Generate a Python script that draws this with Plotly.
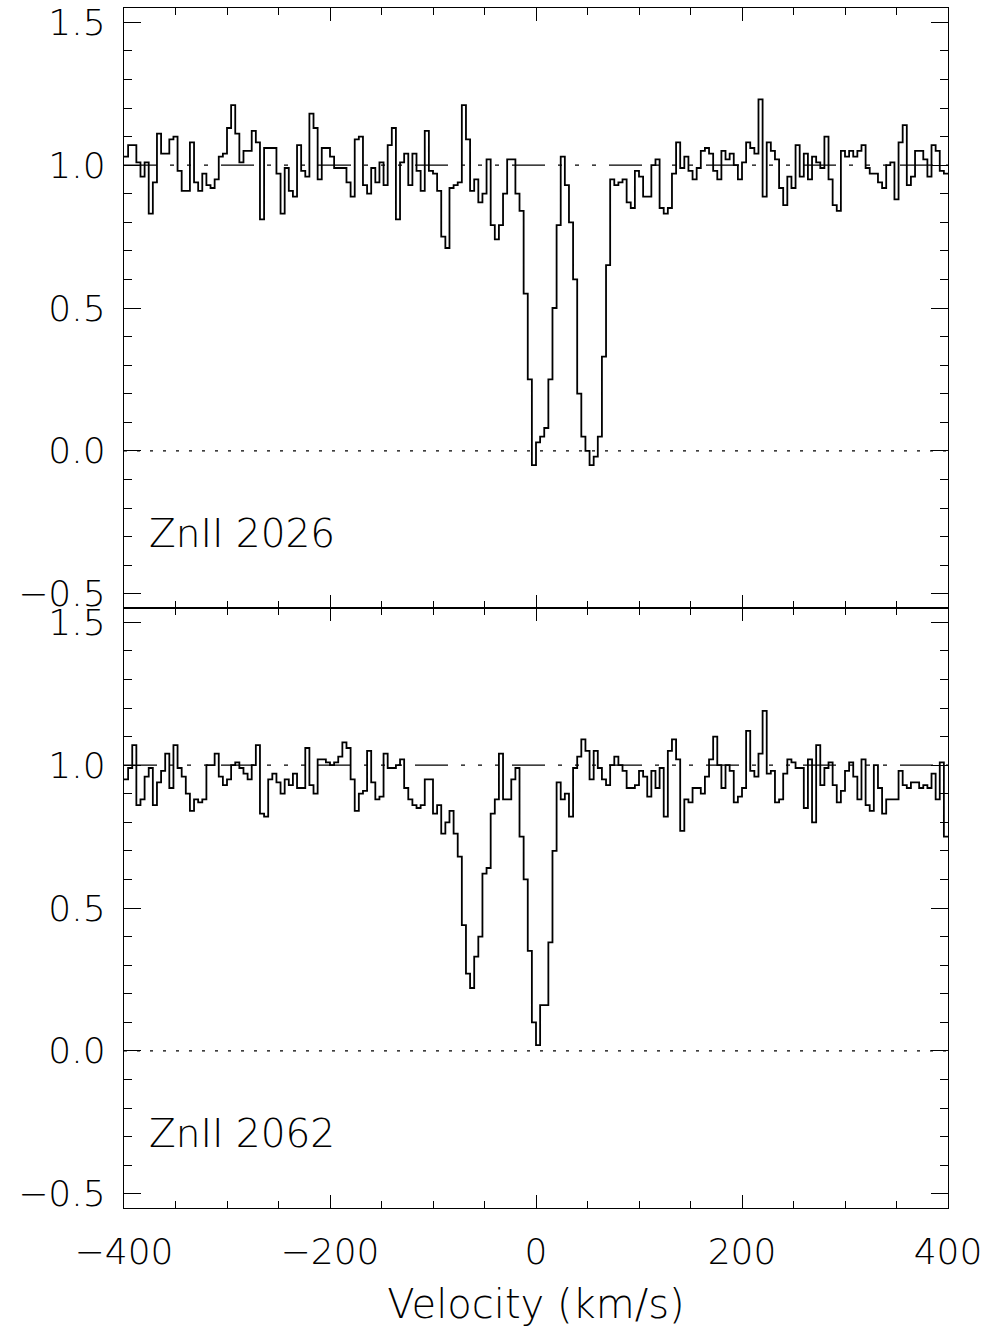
import numpy as np
import plotly.graph_objects as go
from plotly.subplots import make_subplots

# ---------------- data ----------------
V_START = -400.0   # km/s, first bin start
V_STEP = 4.0       # km/s, bin width
V_END = 400.0

flux_2026 = [
    1.03, 1.07, 1.07, 1.01, 0.96, 1.01, 0.83, 0.94, 1.11, 1.04,
    1.04, 1.09, 1.10, 0.98, 0.91, 0.91, 1.08, 0.94, 0.91, 0.97,
    0.93, 0.92, 0.95, 1.03, 1.04, 1.13, 1.21, 1.11, 1.01, 1.05,
    1.05, 1.12, 1.08, 0.81, 1.06, 1.06, 1.06, 0.97, 0.83, 0.99,
    0.91, 0.89, 1.07, 0.98, 0.96, 1.18, 1.13, 0.95, 1.06, 1.06,
    1.03, 0.99, 0.99, 0.99, 0.94, 0.89, 1.09, 1.10, 0.93, 0.90,
    0.99, 0.94, 1.01, 0.93, 1.07, 1.13, 0.81, 1.01, 1.04, 0.93,
    1.04, 0.98, 0.91, 1.12, 0.98, 0.97, 0.91, 0.75, 0.71, 0.92,
    0.93, 0.94, 1.21, 1.09, 0.91, 0.95, 0.87, 0.90, 1.02, 0.79,
    0.74, 0.79, 0.90, 1.02, 1.02, 0.90, 0.84, 0.55, 0.25, -0.05,
    0.03, 0.05, 0.08, 0.25, 0.50, 0.79, 1.03, 0.93, 0.80, 0.60,
    0.20, 0.05, 0.00, -0.05, -0.02, 0.05, 0.33, 0.65, 0.95, 0.93,
    0.94, 0.95, 0.87, 0.85, 0.98, 0.96, 0.89, 0.89, 1.00, 1.02,
    0.85, 0.83, 0.85, 0.97, 1.08, 0.99, 1.03, 0.98, 0.95, 0.99,
    1.05, 1.06, 1.04, 0.98, 0.95, 1.05, 1.02, 1.04, 1.00, 0.95,
    1.01, 1.08, 1.06, 1.04, 1.23, 0.89, 1.08, 1.05, 1.02, 0.92,
    0.86, 0.96, 0.92, 1.07, 0.96, 1.04, 0.95, 1.03, 1.01, 0.99,
    1.10, 0.95, 0.86, 0.84, 1.05, 1.03, 1.05, 1.03, 1.05, 1.07,
    0.99, 0.97, 0.97, 0.94, 0.92, 1.00, 1.01, 0.88, 1.08, 1.14,
    0.93, 0.96, 1.05, 1.05, 1.02, 0.96, 1.07, 1.05, 0.98, 0.97,
]

flux_2062 = [
    0.95, 0.99, 1.07, 0.86, 0.88, 0.96, 0.99, 0.86, 0.94, 0.98,
    1.04, 0.92, 1.07, 0.99, 0.96, 0.90, 0.84, 0.88, 0.87, 0.88,
    1.00, 1.00, 1.04, 0.96, 0.93, 0.95, 1.00, 1.01, 0.99, 0.97,
    0.95, 1.00, 1.07, 0.83, 0.82, 0.95, 0.97, 0.94, 0.90, 0.95,
    0.93, 0.97, 0.92, 0.92, 1.06, 0.93, 0.90, 1.02, 1.02, 1.01,
    1.00, 1.01, 1.03, 1.08, 1.06, 0.95, 0.84, 0.90, 0.91, 1.05,
    0.94, 0.88, 0.89, 1.04, 0.99, 0.99, 1.00, 1.02, 0.92, 0.88,
    0.86, 0.85, 0.86, 0.95, 0.95, 0.83, 0.86, 0.76, 0.80, 0.84,
    0.76, 0.68, 0.44, 0.27, 0.22, 0.33, 0.40, 0.62, 0.64, 0.83,
    0.88, 1.04, 0.88, 0.88, 0.95, 0.99, 0.75, 0.60, 0.35, 0.10,
    0.02, 0.16, 0.16, 0.38, 0.70, 0.94, 0.88, 0.90, 0.82, 0.99,
    1.03, 1.09, 1.05, 0.95, 1.05, 0.99, 0.95, 0.93, 1.00, 1.03,
    1.00, 0.98, 0.92, 0.92, 0.93, 0.98, 0.96, 0.89, 0.98, 0.92,
    0.99, 0.82, 1.05, 1.09, 1.02, 0.77, 0.88, 0.87, 0.92, 0.92,
    0.90, 0.96, 1.02, 1.10, 1.00, 0.92, 1.00, 0.98, 0.87, 0.89,
    0.92, 1.12, 0.98, 0.96, 1.04, 1.19, 0.97, 0.98, 0.87, 0.88,
    0.97, 1.02, 1.01, 0.99, 0.99, 0.85, 1.02, 0.80, 1.07, 0.93,
    0.99, 1.01, 0.93, 0.87, 0.91, 0.98, 1.01, 0.96, 0.88, 1.02,
    0.86, 0.84, 1.00, 0.92, 0.83, 0.88, 0.88, 0.88, 0.98, 0.93,
    0.92, 0.94, 0.94, 0.92, 0.93, 0.92, 0.97, 0.88, 1.01, 0.75,
]

panel_labels = ["ZnII 2026", "ZnII 2062"]
x_tick_vals = [-400, -200, 0, 200, 400]
y_tick_vals = [-0.5, 0.0, 0.5, 1.0, 1.5]
continuum_level = 1.0
zero_level = 0.0
x_range = [-400, 400]
y_range = [-0.55, 1.55]

# ---------------- figure ----------------
FONT = "DejaVu Sans"
FW = 200
fig = make_subplots(rows=2, cols=1, shared_xaxes=True, vertical_spacing=0)

for row, flux in enumerate([flux_2026, flux_2062], start=1):
    vel = V_START + V_STEP * np.arange(len(flux))
    xs = np.append(vel, V_END)
    ys = np.append(np.array(flux), flux[-1])
    # continuum (dash-dot-dot-dot style)
    fig.add_trace(go.Scatter(x=x_range, y=[continuum_level] * 2, mode="lines",
                             line=dict(color="black", width=1.2,
                                       dash="33px,13px,4px,13px,4px,13px,4px,13px"),
                             hoverinfo="skip", showlegend=False), row=row, col=1)
    # zero level (dotted)
    fig.add_trace(go.Scatter(x=x_range, y=[zero_level] * 2, mode="lines",
                             line=dict(color="black", width=1.2, dash="3px,10px"),
                             hoverinfo="skip", showlegend=False), row=row, col=1)
    # spectrum
    fig.add_trace(go.Scatter(x=xs, y=ys, mode="lines",
                             line=dict(color="black", width=1.8, shape="hv"),
                             showlegend=False), row=row, col=1)

axis_common = dict(showline=True, linecolor="black", linewidth=1.4, mirror="ticks",
                   ticks="inside", tickcolor="black", tickwidth=1.3,
                   showgrid=False, zeroline=False, automargin=False,
                   tickfont=dict(family=FONT, size=36, color="black", weight=FW))

for row in (1, 2):
    fig.update_xaxes(range=x_range, tickvals=x_tick_vals, ticklen=13,
                     minor=dict(dtick=50, tick0=-400, ticks="inside", ticklen=7,
                                tickcolor="black", tickwidth=1.3, showgrid=False),
                     showticklabels=(row == 2), ticklabelstandoff=12,
                     **axis_common, row=row, col=1)
    fig.update_yaxes(range=y_range, tickvals=y_tick_vals, tickformat=".1f", ticklen=17,
                     minor=dict(dtick=0.1, tick0=0, ticks="inside", ticklen=8,
                                tickcolor="black", tickwidth=1.3, showgrid=False),
                     ticklabelstandoff=10,
                     **axis_common, row=row, col=1)

fig.update_xaxes(title=dict(text="Velocity (km/s)", standoff=18,
                            font=dict(family=FONT, size=40, color="black", weight=FW)),
                 row=2, col=1)

for row, lab in enumerate(panel_labels, start=1):
    yref = "y" if row == 1 else "y2"
    xref = "x domain" if row == 1 else "x2 domain"
    fig.add_annotation(text=lab, x=0.028, y=-0.29, xref=xref, yref=yref,
                       xanchor="left", yanchor="middle", showarrow=False,
                       font=dict(family=FONT, size=39, color="black", weight=FW))

fig.update_layout(width=995, height=1335, margin=dict(l=124, r=47, t=8, b=127),
                  paper_bgcolor="white", plot_bgcolor="white", showlegend=False)

fig.write_html("out.html")
